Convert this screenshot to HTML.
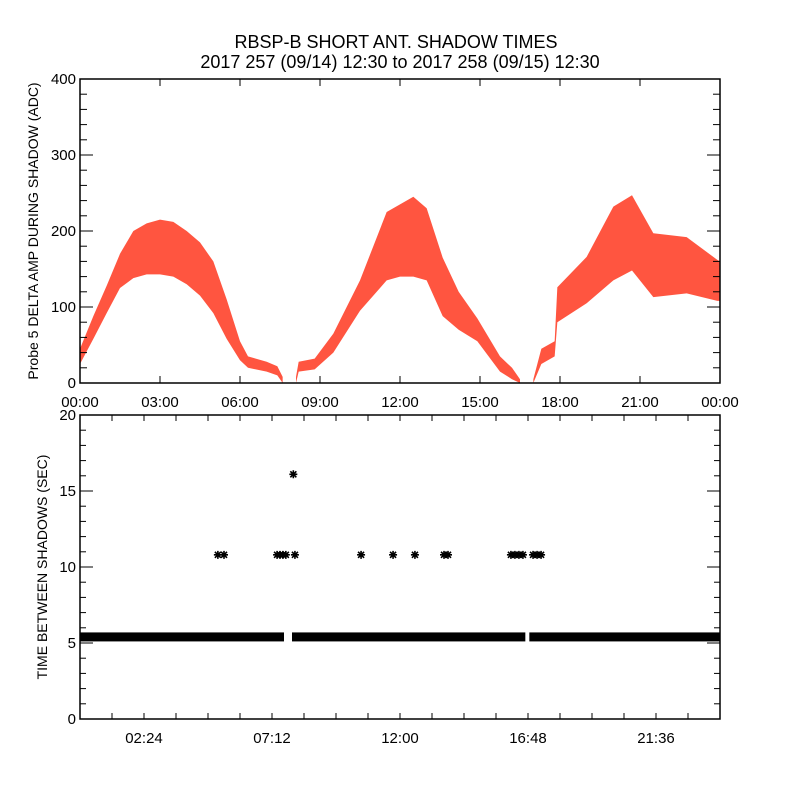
<!DOCTYPE html>
<html><head><meta charset="utf-8"><style>
body{margin:0;background:#fff}
svg{display:block;font-family:"Liberation Sans",sans-serif}
</style></head><body>
<svg id="chart" width="800" height="800" viewBox="0 0 800 800" xmlns="http://www.w3.org/2000/svg">
<rect width="800" height="800" fill="#fff"/>
<text x="396" y="48" font-size="18" text-anchor="middle">RBSP-B SHORT ANT. SHADOW TIMES</text>
<text x="400" y="68" font-size="18" text-anchor="middle">2017 257 (09/14) 12:30 to 2017 258 (09/15) 12:30</text>
<text transform="translate(38,231) rotate(-90)" font-size="14" text-anchor="middle">Probe 5 DELTA AMP DURING SHADOW (ADC)</text>
<text transform="translate(47,567) rotate(-90)" font-size="14" text-anchor="middle">TIME BETWEEN SHADOWS (SEC)</text>
<g id="topPanel"></g>
<g id="botPanel"></g>
</svg>
<script>
// top panel envelope data (hours, low, high ADC)
const arc1Hours=[0,0.5,1,1.5,2,2.5,3,3.5,4,4.5,5,5.5,6,6.3,7,7.4,7.6];
const arc1Lo=[25,58,92,125,138,143,143,140,130,115,92,58,30,20,15,10,0];
const arc1Hi=[45,88,128,170,200,210,215,212,200,185,160,110,55,35,28,22,8];
const arc2Hours=[8.1,8.2,8.8,9.5,10.5,11.5,12,12.5,13,13.6,14.2,14.9,15.75,16.2,16.5];
const arc2Lo=[0,15,18,40,95,135,140,140,135,88,70,55,15,5,0];
const arc2Hi=[8,28,32,65,135,225,235,245,230,165,120,85,35,20,5];
const arc3Hours=[17.0,17.3,17.8,17.9,19,20,20.7,21.5,22.75,23.9,24];
const arc3Lo=[0,25,35,80,105,135,148,113,118,108,108];
const arc3Hi=[5,45,55,126,166,232,247,197,192,162,160];
const topTickLabels=["00:00","03:00","06:00","09:00","12:00","15:00","18:00","21:00","00:00"];
const topYTicks=[0,100,200,300,400];
// bottom panel
const bandSegments=[[0,7.65],[7.95,16.7],[16.85,24]];
const bandValue=5.4;
const starHours=[5.17,5.4,7.39,7.5,7.61,7.72,8.0,8.06,10.54,11.74,12.56,13.65,13.8,16.16,16.31,16.46,16.61,16.99,17.14,17.29];
const starValues=[10.8,10.8,10.8,10.8,10.8,10.8,16.1,10.8,10.8,10.8,10.8,10.8,10.8,10.8,10.8,10.8,10.8,10.8,10.8,10.8];
const botTickLabels=["02:24","07:12","12:00","16:48","21:36"];
const botYTicks=[0,5,10,15,20];

const NS="http://www.w3.org/2000/svg";
const L=80,R=720;
const tT=79,tB=383,bT=415,bB=719;
const xs=h=>L+h*(R-L)/24;
const ty=v=>tB-v*(tB-tT)/400;
const by=v=>bB-v*(bB-bT)/20;
function mk(tag,parent,attrs){const e=document.createElementNS(NS,tag);for(const k in attrs)e.setAttribute(k,attrs[k]);parent.appendChild(e);return e;}
const topG=document.getElementById('topPanel'),botG=document.getElementById('botPanel');

[[arc1Hours,arc1Lo,arc1Hi],[arc2Hours,arc2Lo,arc2Hi],[arc3Hours,arc3Lo,arc3Hi]].forEach((a,i)=>{
  let pts=a[0].map((h,j)=>xs(h)+','+ty(a[2][j]));
  for(let j=a[0].length-1;j>=0;j--)pts.push(xs(a[0][j])+','+ty(a[1][j]));
  const p=mk('polygon',topG,{points:pts.join(' '),fill:'#ff2a10','fill-opacity':'0.8'});
  
  
});
let f=mk('rect',topG,{x:L,y:tT,width:R-L,height:tB-tT,fill:'none',stroke:'#000','stroke-width':1.5});


for(let v=0;v<=400;v+=20){const maj=v%100===0;const len=maj?13:7;
  mk('line',topG,{x1:L,x2:L+len,y1:ty(v),y2:ty(v),stroke:'#000'});
  mk('line',topG,{x1:R,x2:R-len,y1:ty(v),y2:ty(v),stroke:'#000'});}
topYTicks.forEach(v=>{const t=mk('text',topG,{x:L-4,y:ty(v)+5,'font-size':15,'text-anchor':'end'});t.textContent=v;
  
  });
topTickLabels.forEach((s,i)=>{const x=xs(i*3);
  mk('line',topG,{x1:x,x2:x,y1:tB,y2:tB-7,stroke:'#000'});mk('line',topG,{x1:x,x2:x,y1:tT,y2:tT+7,stroke:'#000'});
  const t=mk('text',topG,{x:x,y:tB+24,'font-size':15,'text-anchor':'middle'});t.textContent=s;
  
  });

bandSegments.forEach(s=>{const r=mk('rect',botG,{x:xs(s[0]),width:xs(s[1])-xs(s[0]),y:by(bandValue)-4.5,height:9,fill:'#000'});
  
  });
starHours.forEach((h,i)=>{const cx=xs(h),cy=by(starValues[i]),r=4;
  const d=`M${cx-r},${cy}H${cx+r}M${cx},${cy-r}V${cy+r}M${cx-3},${cy-3}L${cx+3},${cy+3}M${cx-3},${cy+3}L${cx+3},${cy-3}`;
  const p=mk('path',botG,{d:d,stroke:'#000','stroke-width':1.6,fill:'none'});
  
  });
f=mk('rect',botG,{x:L,y:bT,width:R-L,height:bB-bT,fill:'none',stroke:'#000','stroke-width':1.5});


for(let v=0;v<=20;v++){const maj=v%5===0;const len=maj?13:6;
  mk('line',botG,{x1:L,x2:L+len,y1:by(v),y2:by(v),stroke:'#000'});
  mk('line',botG,{x1:R,x2:R-len,y1:by(v),y2:by(v),stroke:'#000'});}
botYTicks.forEach(v=>{const t=mk('text',botG,{x:L-4,y:by(v)+5,'font-size':15,'text-anchor':'end'});t.textContent=v;
  
  });
for(let h=1.2;h<24;h+=1.2){const x=xs(h);
  mk('line',botG,{x1:x,x2:x,y1:bB,y2:bB-6,stroke:'#000'});mk('line',botG,{x1:x,x2:x,y1:bT,y2:bT+6,stroke:'#000'});}
botTickLabels.forEach((s,i)=>{const x=xs(2.4+i*4.8);
  const t=mk('text',botG,{x:x,y:bB+24,'font-size':15,'text-anchor':'middle'});t.textContent=s;
  
  });
</script>
</body></html>
